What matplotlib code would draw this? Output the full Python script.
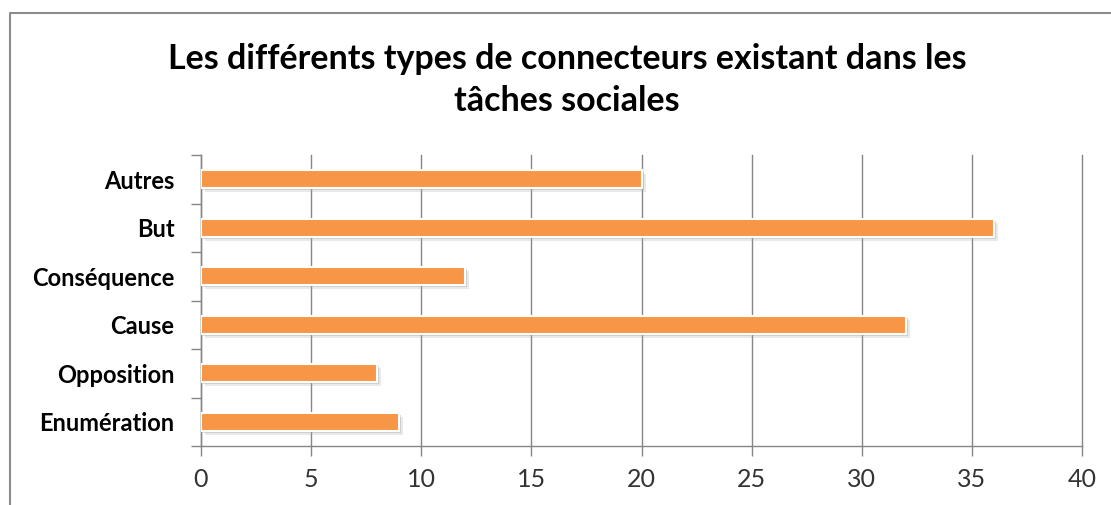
import matplotlib
matplotlib.use('Agg')
import matplotlib.pyplot as plt
import matplotlib.patheffects as pe
from matplotlib.lines import Line2D

# données
categories = ['Enumération', 'Opposition', 'Cause', 'Conséquence', 'But', 'Autres']
valeurs = [9, 8, 32, 12, 36, 20]
xticks = [0, 5, 10, 15, 20, 25, 30, 35, 40]

plt.rcParams['font.family'] = ['Lato', 'DejaVu Sans']

fig = plt.figure(figsize=(11.11, 5.05), dpi=100)
ax = fig.add_axes([201/1111, 1 - 446/505, (1082 - 201)/1111, (446 - 155)/505])

pos = range(len(categories))
bars = ax.barh(pos, valeurs, height=0.37, color='#F79646', edgecolor='white', linewidth=1.5, zorder=3)
for b in bars:
    b.set_path_effects([pe.SimplePatchShadow(offset=(3, -3), shadow_rgbFace='#aaaaaa', alpha=0.25),
                        pe.SimplePatchShadow(offset=(1.5, -1.5), shadow_rgbFace='#999999', alpha=0.35),
                        pe.Normal()])

ax.set_xlim(0, 40)
ax.set_ylim(-0.5, len(categories) - 0.5)
ax.set_xticks(xticks)
ax.set_xticklabels([str(t) for t in xticks], fontsize=18, color='#333333')

# étiquettes de catégories au centre, graduations aux limites
ax.set_yticks([i - 0.5 for i in range(len(categories) + 1)])
ax.set_yticklabels([])
ax.set_yticks(list(pos), minor=True)
ax.set_yticklabels(categories, minor=True, fontsize=17, fontweight='bold')
ax.tick_params(axis='y', which='minor', length=0, pad=19)
ax.tick_params(axis='y', which='major', length=7, color='#868686', width=1)
ax.tick_params(axis='x', length=7, color='#868686', width=1, pad=9)

ax.grid(axis='x', color='#868686', linewidth=1, zorder=0)
for gl in ax.get_xgridlines():
    gl.set_clip_on(False)
ax.set_axisbelow(True)
for s in ['top', 'right']:
    ax.spines[s].set_visible(False)
for s in ['left', 'bottom']:
    ax.spines[s].set_color('#868686')
    ax.spines[s].set_linewidth(1)

fig.text(567/1111, 1 - 59/505, 'Les différents types de connecteurs existant dans les',
         ha='center', va='center', fontsize=24.5, fontweight='bold')
fig.text(567/1111, 1 - 101/505, 'tâches sociales',
         ha='center', va='center', fontsize=24.5, fontweight='bold')

# cadre du graphique
fig.add_artist(Line2D([10/1111, 10/1111, 1.0], [0.0, 1 - 13/505, 1 - 13/505],
                      transform=fig.transFigure, color='#8c8c8c', linewidth=1.5))

fig.savefig('out.png', dpi=100)
